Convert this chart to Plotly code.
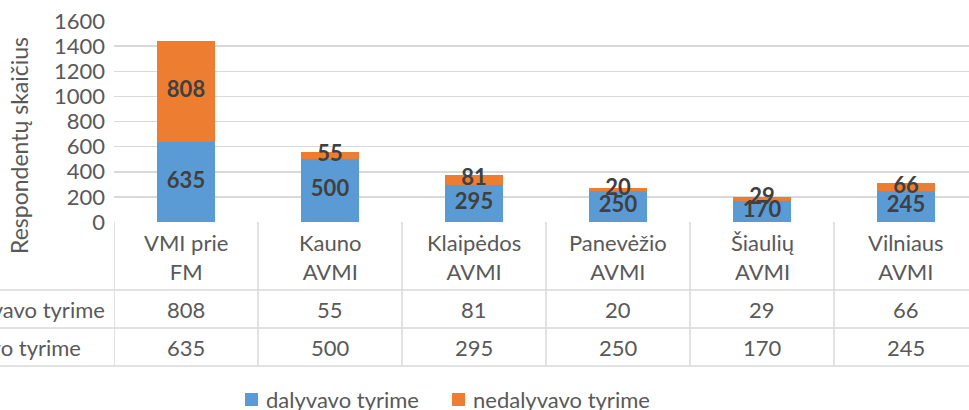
import plotly.graph_objects as go

categories = ["VMI prie FM", "Kauno AVMI", "Klaipėdos AVMI", "Panevėžio AVMI", "Šiaulių AVMI", "Vilniaus AVMI"]
cat_labels = ["VMI prie<br>FM", "Kauno<br>AVMI", "Klaipėdos<br>AVMI", "Panevėžio<br>AVMI", "Šiaulių<br>AVMI", "Vilniaus<br>AVMI"]
dalyvavo = [635, 500, 295, 250, 170, 245]
nedalyvavo = [808, 55, 81, 20, 29, 66]
series_names = ["dalyvavo tyrime", "nedalyvavo tyrime"]
y_ticks = [0, 200, 400, 600, 800, 1000, 1200, 1400, 1600]

BLUE = "#5B9BD5"
ORANGE = "#ED7D31"
TXT = "#595959"
GRID = "#D9D9D9"
FONT = "Lato, 'Open Sans', sans-serif"
FS = 22

W, H = 969, 410
L, R, T, B = 114, 0, 21, 188
PW, PH = W - L - R, H - T - B


def px(xp):
    return (xp - L) / PW


def py(yp):
    return (H - B - yp) / PH


fig = go.Figure()
fig.add_trace(go.Bar(x=categories, y=dalyvavo, name=series_names[0], marker=dict(color=BLUE, line=dict(width=0)),
                     width=0.4, showlegend=False))
fig.add_trace(go.Bar(x=categories, y=nedalyvavo, name=series_names[1], marker=dict(color=ORANGE, line=dict(width=0)),
                     width=0.4, showlegend=False))

# data labels centred in segments
mid_d = [v / 2 for v in dalyvavo]
mid_n = [d + n / 2 for d, n in zip(dalyvavo, nedalyvavo)]
lab_font = dict(family=FONT, size=FS, color="#404040", weight="bold")
fig.add_trace(go.Scatter(x=categories, y=mid_d, mode="text", text=[str(v) for v in dalyvavo],
                         textfont=lab_font, showlegend=False, hoverinfo="skip", cliponaxis=False))
fig.add_trace(go.Scatter(x=categories, y=mid_n, mode="text", text=[str(v) for v in nedalyvavo],
                         textfont=lab_font, showlegend=False, hoverinfo="skip", cliponaxis=False))

shapes = []
# table horizontal lines
for yp in [290, 328, 366]:
    shapes.append(dict(type="line", xref="paper", yref="paper", x0=px(0), x1=px(W), y0=py(yp), y1=py(yp),
                       line=dict(color=GRID, width=1.5)))
# table vertical lines
for i in range(len(categories) + 1):
    shapes.append(dict(type="line", xref="x", yref="paper", x0=i - 0.5, x1=i - 0.5, y0=py(222), y1=py(366),
                       line=dict(color=GRID, width=1.5)))

tfont = dict(family=FONT, size=FS, color=TXT)
annotations = []
for c, lab, n, d in zip(categories, cat_labels, nedalyvavo, dalyvavo):
    annotations.append(dict(x=c, xref="x", y=py(257), yref="paper", text=lab, showarrow=False,
                            font=tfont, yanchor="middle"))
    annotations.append(dict(x=c, xref="x", y=py(309), yref="paper", text=str(n), showarrow=False,
                            font=tfont, yanchor="middle"))
    annotations.append(dict(x=c, xref="x", y=py(347), yref="paper", text=str(d), showarrow=False,
                            font=tfont, yanchor="middle"))
# row labels (partly cut off at left edge, as in the original)
annotations.append(dict(x=px(107), xref="paper", y=py(309), yref="paper", text=series_names[1], showarrow=False,
                        xanchor="right", yanchor="middle", font=tfont))
annotations.append(dict(x=px(83), xref="paper", y=py(347), yref="paper", text=series_names[0], showarrow=False,
                        xanchor="right", yanchor="middle", font=tfont))
# y axis title
annotations.append(dict(x=px(19), xref="paper", y=py(146), yref="paper", text="Respondentų skaičius",
                        showarrow=False, textangle=-90, xanchor="center", yanchor="middle",
                        font=dict(family=FONT, size=23, color=TXT)))

# legend (drawn manually)
leg = [(series_names[0], BLUE, 245), (series_names[1], ORANGE, 452)]
for name, col, x0 in leg:
    shapes.append(dict(type="rect", xref="paper", yref="paper", x0=px(x0), x1=px(x0 + 13), y0=py(406), y1=py(393),
                       fillcolor=col, line=dict(width=0)))
    annotations.append(dict(x=px(x0 + 19), xref="paper", y=py(399), yref="paper", text=name, showarrow=False,
                            xanchor="left", yanchor="middle", font=tfont))

fig.update_layout(
    width=W, height=H,
    margin=dict(l=L, r=R, t=T, b=B, autoexpand=False),
    barmode="stack",
    plot_bgcolor="white", paper_bgcolor="white",
    font=dict(family=FONT, color=TXT, size=FS),
    showlegend=False,
    hovermode=False,
    xaxis=dict(range=[-0.5, -0.5 + PW / 144.0], showticklabels=False, showgrid=False, zeroline=False,
               showline=False, ticks="", fixedrange=True, automargin=False),
    yaxis=dict(range=[0, 1600], tickvals=y_ticks, showgrid=True, gridcolor=GRID, gridwidth=1.5,
               zeroline=False, showline=False, ticks="", tickfont=dict(family=FONT, size=FS, color=TXT),
               ticklabelstandoff=8, automargin=False, fixedrange=True),
    shapes=shapes,
    annotations=annotations,
)

fig.write_html("out.html", config={"displayModeBar": False, "staticPlot": True},
               post_script="document.body.style.margin='0px';document.body.style.overflow='hidden';")
